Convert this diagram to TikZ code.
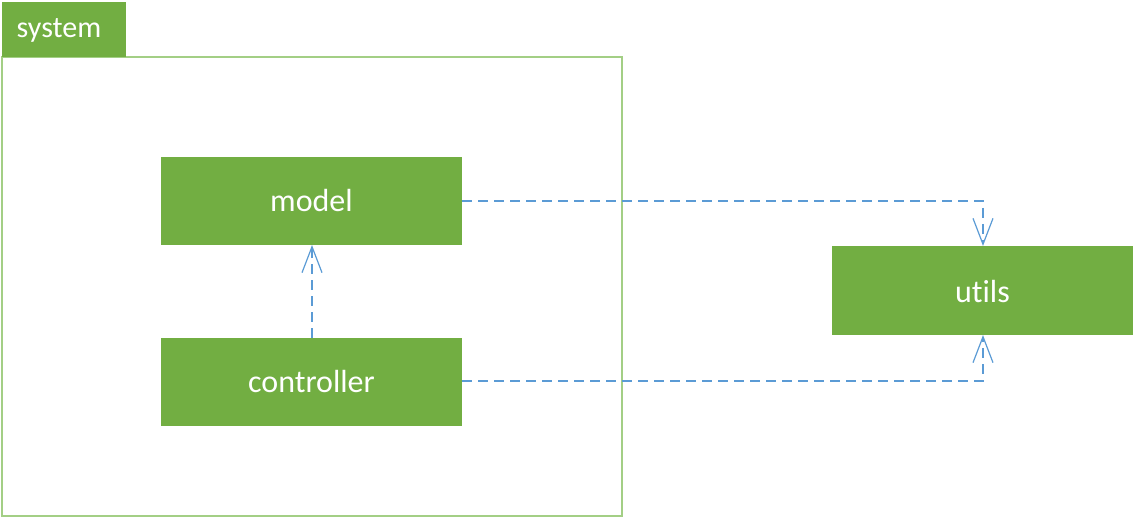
\documentclass[tikz,border=0pt]{standalone}
\usepackage{fontspec}
\setmainfont{Carlito}[Ligatures={NoCommon}]
\usetikzlibrary{arrows.meta}
\definecolor{boxgreen}{HTML}{72AE42}
\definecolor{framegreen}{HTML}{A3CF85}
\definecolor{linkblue}{HTML}{5B9BD5}
\tikzset{
  pkglabel/.style={text=white, font=\fontsize{32}{38}\selectfont},
  dep/.style={draw=linkblue, line width=1.2pt, dash pattern=on 10pt off 6pt,
    -{Straight Barb[length=26pt,width=20pt,line width=1.2pt]}},
}
\begin{document}
\begin{tikzpicture}[x=1pt,y=-1pt]
\useasboundingbox (0,0) rectangle (1135,518);
% system frame
\draw[framegreen, line width=1.3pt] (2,57) rectangle (622,516);
\fill[boxgreen] (2,2) rectangle (126,57);
\node[text=white, font=\fontsize{30}{34}\selectfont, anchor=center] (systab) at (59,30) {system};
% boxes
\fill[boxgreen] (161,157) rectangle (462,245);
\node[pkglabel] (model) at (311.5,201) {model};
\fill[boxgreen] (161,338) rectangle (462,426);
\node[pkglabel] (controller) at (311.5,382) {controller};
\fill[boxgreen] (832,246) rectangle (1133,335);
\node[pkglabel] (utils) at (982.5,292) {utils};
% anchor coordinates
\coordinate (modelR) at (462,201);
\coordinate (modelB) at (312,245);
\coordinate (ctrlR) at (462,381);
\coordinate (ctrlT) at (312,338);
\coordinate (utilsT) at (983,246);
\coordinate (utilsB) at (983,335);
% dependencies
\draw[dep] (modelR) -| (utilsT);
\draw[dep] (ctrlR) -| (utilsB);
\draw[dep] (ctrlT) -- (modelB);
\end{tikzpicture}
\end{document}
